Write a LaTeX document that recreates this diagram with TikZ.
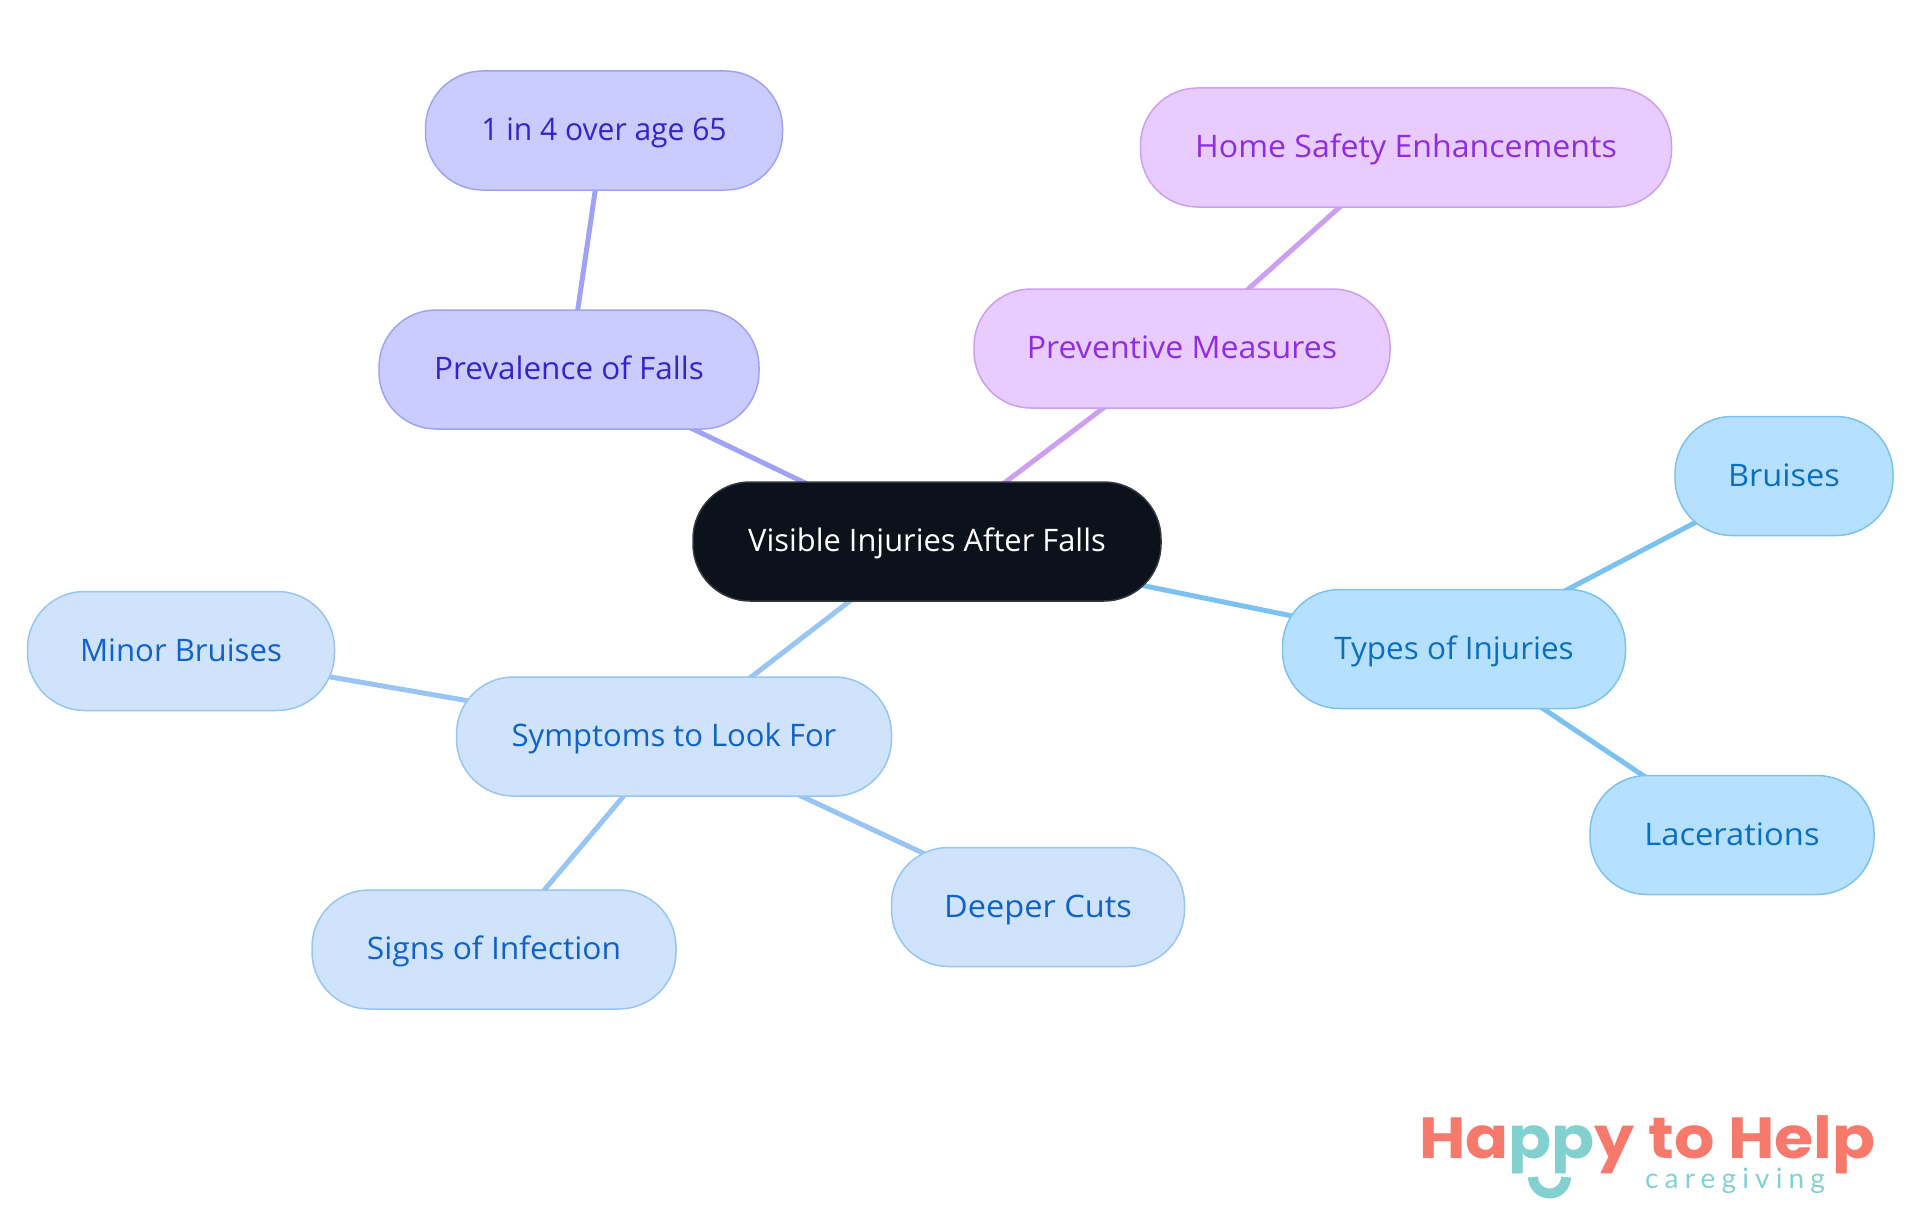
\documentclass[tikz,border=0pt]{standalone}
\usepackage{fontspec}
\setmainfont{Open Sans}
\newfontfamily\logofont{Poppins}
\newfontfamily\subfont{Lato}[LetterSpace=22]
\usetikzlibrary{backgrounds}
\definecolor{rootfill}{HTML}{0B121B}\definecolor{rootline}{HTML}{33383F}
\definecolor{tfill}{HTML}{B6E0FF}\definecolor{tline}{HTML}{7CC2F0}\definecolor{ttext}{HTML}{0B6FBF}
\definecolor{sfill}{HTML}{CFE3FC}\definecolor{sline}{HTML}{98C5F3}\definecolor{stext}{HTML}{0F62C9}
\definecolor{pfill}{HTML}{CACBFF}\definecolor{pline}{HTML}{A0A3F5}\definecolor{ptext}{HTML}{3325C9}
\definecolor{mfill}{HTML}{E8CBFF}\definecolor{mline}{HTML}{CD9FF0}\definecolor{mtext}{HTML}{8E2DE2}
\definecolor{coral}{HTML}{F7796B}\definecolor{teal}{HTML}{83D0D0}
\tikzset{x=1pt,y=-1pt,
 pill/.style={rectangle,rounded corners=57pt,line width=1.5pt,inner sep=0pt,minimum height=119pt,text height=24.5pt,text depth=4pt,font=\fontsize{31}{36}\selectfont},
 rootnode/.style={pill,draw=rootline,fill=rootfill,text=white},
 typenode/.style={pill,draw=tline,fill=tfill,text=ttext},
 sympnode/.style={pill,draw=sline,fill=sfill,text=stext},
 prevnode/.style={pill,draw=pline,fill=pfill,text=ptext},
 measnode/.style={pill,draw=mline,fill=mfill,text=mtext},
 tlink/.style={draw=tline,line width=5pt},
 slink/.style={draw=sline,line width=5pt},
 plink/.style={draw=pline,line width=5pt},
 mlink/.style={draw=mline,line width=5pt}}
\begin{document}
\begin{tikzpicture}
\useasboundingbox (0,0) rectangle (1920,1215);
\node[rootnode,minimum width=468pt] (root) at (927,541.5) {\scalebox{0.995}[1]{Visible Injuries After Falls}};
\node[prevnode,minimum width=380pt] (prev) at (569,369.5) {\scalebox{1.015}[1]{Prevalence of Falls}};
\node[prevnode,minimum width=357pt] (one) at (604,130.5) {\scalebox{0.968}[1]{1 in 4 over age 65}};
\node[measnode,minimum width=416pt] (meas) at (1182,348.5) {\scalebox{1.035}[1]{Preventive Measures}};
\node[measnode,minimum width=531pt] (home) at (1406,147.5) {\scalebox{1.035}[1]{Home Safety Enhancements}};
\node[typenode,minimum width=343pt] (types) at (1454,649) {\scalebox{1.015}[1]{Types of Injuries}};
\node[typenode,minimum width=218pt] (bruises) at (1784,476) {\scalebox{1.05}[1]{Bruises}};
\node[typenode,minimum width=284pt] (lac) at (1732,835) {\scalebox{1.055}[1]{Lacerations}};
\node[sympnode,minimum width=435pt] (symp) at (674,736.5) {Symptoms to Look For};
\node[sympnode,minimum width=307pt] (minor) at (181,651) {\scalebox{1.005}[1]{Minor Bruises}};
\node[sympnode,minimum width=364pt] (signs) at (494,949.5) {\scalebox{1.025}[1]{Signs of Infection}};
\node[sympnode,minimum width=293pt] (deep) at (1038,907) {\scalebox{1.05}[1]{Deeper Cuts}};
\begin{pgfonlayer}{background}
\draw[plink] (root.center) -- (prev.center);
\draw[plink] (prev.center) -- (one.center);
\draw[mlink] (root.center) -- (meas.center);
\draw[mlink] (meas.center) -- (home.center);
\draw[tlink] (root.center) -- (types.center);
\draw[tlink] (types.center) -- (bruises.center);
\draw[tlink] (types.center) -- (lac.center);
\draw[slink] (root.center) -- (symp.center);
\draw[slink] (symp.center) -- (minor.center);
\draw[slink] (symp.center) -- (signs.center);
\draw[slink] (symp.center) -- (deep.center);
\end{pgfonlayer}
\node[anchor=base west,inner sep=0pt,font=\logofont\bfseries\fontsize{58}{70}\selectfont] (logo) at (1419,1158)
 {\scalebox{1.094}[1]{\textcolor{coral}{Ha}\textcolor{teal}{pp}\textcolor{coral}{y to Help}}};
\node[anchor=base west,inner sep=0pt,text=teal,font=\subfont\fontsize{28}{30}\selectfont] (sub) at (1645,1188) {caregiving};
\coordinate (smileleft) at (1533,1177);
\draw[teal,line width=10pt] (smileleft) arc[start angle=180,end angle=360,x radius=16.5pt,y radius=16.5pt];
\end{tikzpicture}
\end{document}
